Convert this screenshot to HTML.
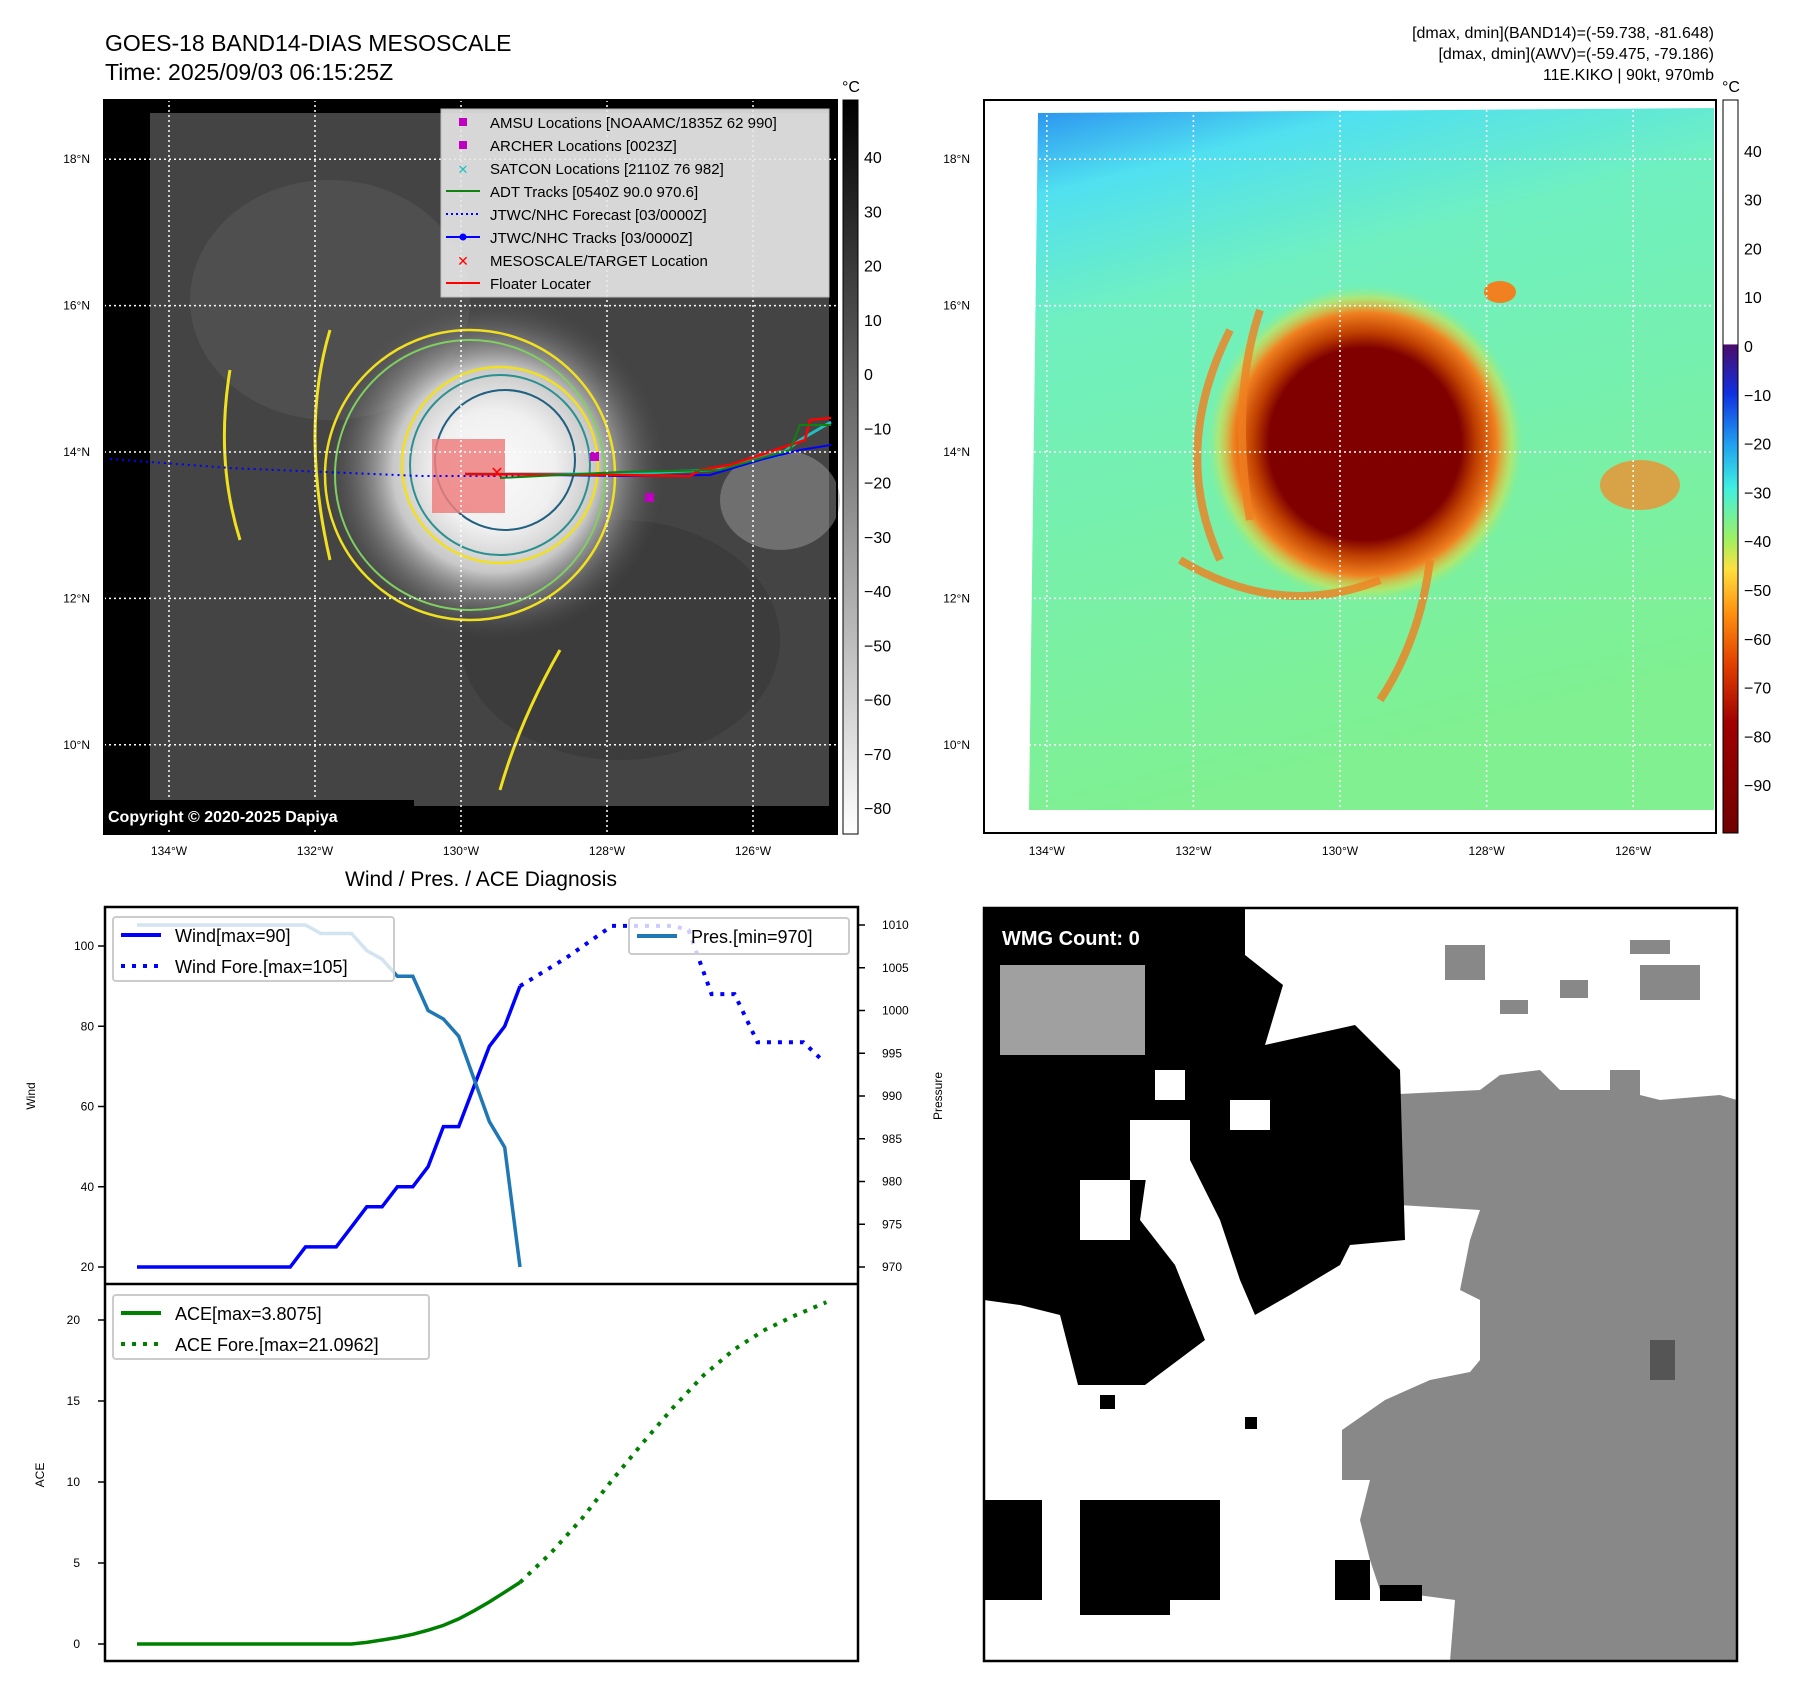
<!DOCTYPE html>
<html><head><meta charset="utf-8">
<style>
body{margin:0;background:#fff;}
svg{display:block;font-family:"Liberation Sans","DejaVu Sans",sans-serif;}
</style></head>
<body>
<svg id="root" width="1797" height="1690" viewBox="0 0 1797 1690" xmlns="http://www.w3.org/2000/svg">
<defs>
<linearGradient id="cb1" x1="0" y1="0" x2="0" y2="1">
<stop offset="0" stop-color="#000"/><stop offset="1" stop-color="#fff"/></linearGradient>
<linearGradient id="cb2" x1="0" y1="0" x2="0" y2="1">
<stop offset="0" stop-color="#fff"/><stop offset="0.333" stop-color="#fff"/>
<stop offset="0.334" stop-color="#4b0c6b"/><stop offset="0.40" stop-color="#1030e0"/>
<stop offset="0.47" stop-color="#20a0f0"/><stop offset="0.53" stop-color="#40f0e0"/>
<stop offset="0.60" stop-color="#a0f060"/><stop offset="0.64" stop-color="#ffe040"/>
<stop offset="0.70" stop-color="#ff9010"/><stop offset="0.77" stop-color="#e04000"/>
<stop offset="0.85" stop-color="#a00000"/><stop offset="1" stop-color="#700000"/></linearGradient>
<radialGradient id="storm1" cx="0.5" cy="0.5" r="0.5">
<stop offset="0" stop-color="#fafafa"/><stop offset="0.35" stop-color="#f0f0f0"/>
<stop offset="0.6" stop-color="#c8c8c8"/><stop offset="1" stop-color="#555" stop-opacity="0"/></radialGradient>
<linearGradient id="bg2" x1="0" y1="0" x2="0.25" y2="1">
<stop offset="0" stop-color="#2a90f0"/><stop offset="0.12" stop-color="#50e0f0"/>
<stop offset="0.3" stop-color="#70f0c0"/><stop offset="1" stop-color="#80f090"/></linearGradient>
<radialGradient id="storm2" cx="0.5" cy="0.5" r="0.5">
<stop offset="0" stop-color="#800000"/><stop offset="0.6" stop-color="#800000"/>
<stop offset="0.7" stop-color="#c04000"/><stop offset="0.82" stop-color="#f08020"/>
<stop offset="0.92" stop-color="#e0e040" stop-opacity="0.5"/><stop offset="1" stop-color="#80f090" stop-opacity="0"/></radialGradient>
</defs>

<text x="105" y="51" font-size="23">GOES-18 BAND14-DIAS MESOSCALE</text>
<text x="105" y="80" font-size="23">Time: 2025/09/03 06:15:25Z</text>
<g font-size="16" text-anchor="end">
<text x="1714" y="38">[dmax, dmin](BAND14)=(-59.738, -81.648)</text>
<text x="1714" y="59">[dmax, dmin](AWV)=(-59.475, -79.186)</text>
<text x="1714" y="80">11E.KIKO | 90kt, 970mb</text>
</g>

<!-- MAP 1 -->
<g>
<rect x="104" y="100" width="733" height="734" fill="#000"/>
<rect x="150" y="113" width="679" height="693" fill="#444"/>
<ellipse cx="330" cy="300" rx="140" ry="120" fill="#5a5a5a" opacity="0.5"/>
<ellipse cx="620" cy="640" rx="160" ry="120" fill="#333" opacity="0.5"/>
<ellipse cx="780" cy="500" rx="60" ry="50" fill="#999" opacity="0.5"/>
<circle cx="495" cy="470" r="170" fill="url(#storm1)"/>
<circle cx="470" cy="475" r="145" fill="none" stroke="#f0e020" stroke-width="2.5"/>
<circle cx="470" cy="475" r="135" fill="none" stroke="#80d060" stroke-width="2"/>
<circle cx="500" cy="465" r="98" fill="none" stroke="#f0e020" stroke-width="2.5"/>
<circle cx="500" cy="465" r="90" fill="none" stroke="#2a9090" stroke-width="2"/>
<circle cx="505" cy="460" r="70" fill="none" stroke="#206080" stroke-width="2"/>
<path d="M230 370 Q215 460 240 540 M330 330 Q300 430 330 560 M560 650 Q520 720 500 790" fill="none" stroke="#f0e020" stroke-width="3"/>
<rect x="432" y="439" width="73" height="74" fill="#f08080" opacity="0.85"/>
<path d="M110 459 L230 468 L420 476 L520 476" fill="none" stroke="#0000ff" stroke-width="2" stroke-dasharray="2 4"/>
<path d="M465 474 L620 474 L710 470 L780 455 L800 440 L831 422" fill="none" stroke="#20c0c0" stroke-width="3"/>
<path d="M465 474 L620 476 L710 475 L760 460 L800 450 L831 445" fill="none" stroke="#0000ff" stroke-width="2"/>
<path d="M465 474 L620 475 L690 476 L700 470 L730 465 L760 455 L805 440 L810 420 L831 418" fill="none" stroke="#ff0000" stroke-width="2.5"/>
<path d="M500 478 L620 472 L720 470 L790 450 L800 425 L831 425" fill="none" stroke="#108010" stroke-width="2"/>
<text x="497" y="478" font-size="16" fill="#f00" text-anchor="middle">✕</text>
<rect x="645" y="493" width="9" height="9" fill="#c000c0"/>
<rect x="590" y="452" width="9" height="9" fill="#c000c0"/>
<g id="grid1"></g>
<rect x="104" y="800" width="310" height="30" fill="#000"/>
<text x="108" y="822" font-size="16" font-weight="bold" fill="#fff">Copyright © 2020-2025 Dapiya</text>
<rect x="104" y="100" width="733" height="734" fill="none" stroke="#000" stroke-width="2"/>
</g>
<g font-size="15">
<rect x="441" y="109" width="388" height="188" fill="#e8e8e8" opacity="0.9" stroke="#ccc"/>
<rect x="459" y="118" width="8" height="8" fill="#c000c0"/><text x="490" y="128">AMSU Locations [NOAAMC/1835Z 62 990]</text>
<rect x="459" y="141" width="8" height="8" fill="#c000c0"/><text x="490" y="151">ARCHER Locations [0023Z]</text>
<text x="463" y="174" fill="#20c0c0" text-anchor="middle" font-size="13">✕</text><text x="490" y="174">SATCON Locations [2110Z 76 982]</text>
<line x1="446" y1="191" x2="480" y2="191" stroke="#108010" stroke-width="2"/><text x="490" y="197">ADT Tracks [0540Z 90.0 970.6]</text>
<line x1="446" y1="214" x2="480" y2="214" stroke="#0000ff" stroke-width="2" stroke-dasharray="2 3"/><text x="490" y="220">JTWC/NHC Forecast [03/0000Z]</text>
<line x1="446" y1="237" x2="480" y2="237" stroke="#0000ff" stroke-width="2"/><circle cx="463" cy="237" r="3.5" fill="#00f"/><text x="490" y="243">JTWC/NHC Tracks [03/0000Z]</text>
<text x="463" y="266" fill="#f00" text-anchor="middle" font-size="14">✕</text><text x="490" y="266">MESOSCALE/TARGET Location</text>
<line x1="446" y1="283" x2="480" y2="283" stroke="#ff0000" stroke-width="2"/><text x="490" y="289">Floater Locater</text>
</g>
<rect x="843" y="100" width="15" height="734" fill="url(#cb1)" stroke="#000"/>
<text x="851" y="92" font-size="16" text-anchor="middle">°C</text>
<g id="cbt1" font-size="16"></g>

<!-- MAP 2 -->
<g>
<rect x="984" y="100" width="732" height="733" fill="#fff"/>
<polygon points="1038,113 1714,108 1714,810 1029,810" fill="url(#bg2)"/>
<circle cx="1365" cy="444" r="160" fill="url(#storm2)"/>
<path d="M1230 330 Q1170 450 1220 560 M1260 310 Q1230 400 1250 520 M1180 560 Q1280 620 1380 580 M1430 560 Q1420 640 1380 700" fill="none" stroke="#f08020" stroke-width="8" opacity="0.8"/>
<ellipse cx="1640" cy="485" rx="40" ry="25" fill="#f09030" opacity="0.8"/>
<ellipse cx="1500" cy="292" rx="16" ry="11" fill="#f08020"/>
<circle cx="1365" cy="444" r="95" fill="#800000"/>
<g id="grid2"></g>
<rect x="984" y="100" width="732" height="733" fill="none" stroke="#000" stroke-width="2"/>
</g>
<rect x="1723" y="100" width="15" height="733" fill="url(#cb2)" stroke="#000"/>
<text x="1731" y="92" font-size="16" text-anchor="middle">°C</text>
<g id="cbt2" font-size="16"></g>

<!-- WIND/PRES/ACE -->
<text x="481" y="886" font-size="21" text-anchor="middle">Wind / Pres. / ACE Diagnosis</text>
<g id="chart"></g>

<!-- WMG -->
<g>
<rect x="984" y="908" width="753" height="753" fill="#fff"/>
<polygon points="1288,1198 1330,1198 1330,1120 1380,1095 1480,1090 1500,1075 1540,1070 1560,1090 1620,1090 1660,1100 1720,1095 1737,1100 1737,1661 1450,1661 1455,1600 1380,1590 1370,1560 1360,1520 1370,1480 1342,1480 1342,1430 1385,1400 1430,1380 1470,1372 1480,1360 1480,1300 1460,1290 1470,1240 1480,1210" fill="#888"/>
<rect x="1445" y="945" width="40" height="35" fill="#888"/><rect x="1500" y="1000" width="28" height="14" fill="#888"/><rect x="1560" y="980" width="28" height="18" fill="#888"/><rect x="1630" y="940" width="40" height="14" fill="#888"/><rect x="1640" y="965" width="60" height="35" fill="#888"/><rect x="1610" y="1070" width="30" height="40" fill="#888"/>
<polygon points="984,908 1245,908 1245,955 1283,985 1265,1045 1355,1025 1400,1070 1405,1240 1350,1245 1340,1265 1290,1295 1255,1315 1240,1280 1220,1220 1190,1160 1150,1150 1140,1220 1175,1265 1205,1340 1145,1385 1078,1385 1060,1315 1020,1305 984,1300" fill="#000"/>
<rect x="1000" y="965" width="145" height="90" fill="#a0a0a0"/>
<rect x="1155" y="1070" width="30" height="30" fill="#fff"/><rect x="1230" y="1100" width="40" height="30" fill="#fff"/><rect x="1130" y="1120" width="60" height="60" fill="#fff"/>
<rect x="1080" y="1180" width="50" height="60" fill="#fff"/>
<rect x="984" y="1500" width="58" height="100" fill="#000"/><rect x="1080" y="1500" width="140" height="100" fill="#000"/><rect x="1080" y="1580" width="90" height="35" fill="#000"/><rect x="1335" y="1560" width="35" height="40" fill="#000"/><rect x="1380" y="1585" width="42" height="16" fill="#000"/><rect x="1100" y="1395" width="15" height="14" fill="#000"/><rect x="1245" y="1417" width="12" height="12" fill="#000"/>
<rect x="1650" y="1340" width="25" height="40" fill="#555"/>
<text x="1002" y="945" font-size="20" font-weight="bold" fill="#fff">WMG Count: 0</text>
<rect x="984" y="908" width="753" height="753" fill="none" stroke="#000" stroke-width="2.5"/>
</g>

<script>
// ---------- chart data ----------
const windObs = [20,20,20,20,20,20,20,20,20,20,20,25,25,25,30,35,35,40,40,45,55,55,65,75,80,90];
const presObs = [1010,1010,1010,1010,1010,1010,1010,1010,1010,1010,1010,1010,1009,1009,1009,1007,1006,1004,1004,1000,999,997,992,987,984,970];
const windForeIdx = [25,28,31,35,36,37.5,39,40.5,42,43.5,44.6];
const windForeVal = [90,97,105,105,104,88,88,76,76,76,72];
const aceObs = [0,0,0,0,0,0,0,0,0,0,0,0,0,0,0,0.1,0.25,0.4,0.6,0.85,1.15,1.55,2.05,2.6,3.2,3.8];
const aceForeIdx = [25,27,29,31,33,35,37,39,41,43,45];
const aceForeVal = [3.8,5.6,7.7,10.1,12.4,14.6,16.6,18.2,19.4,20.3,21.1];
const windTicks = [20,40,60,80,100];
const presTicks = [970,975,980,985,990,995,1000,1005,1010];
const aceTicks = [0,5,10,15,20];
const latTicks = ["18°N","16°N","14°N","12°N","10°N"];
const latVals = [18,16,14,12,10];
const lonTicks = ["134°W","132°W","130°W","128°W","126°W"];
const lonVals = [134,132,130,128,126];
const cb1Ticks = [40,30,20,10,0,-10,-20,-30,-40,-50,-60,-70,-80];
const cb2Ticks = [40,30,20,10,0,-10,-20,-30,-40,-50,-60,-70,-80,-90];

const NS = "http://www.w3.org/2000/svg";
function mk(tag, attrs, parent, txt){const e=document.createElementNS(NS,tag);for(const k in attrs)e.setAttribute(k,attrs[k]);if(txt!==undefined)e.textContent=txt;parent.appendChild(e);return e;}

const X = i => 137 + i*15.32;
const yW = w => 1267 - (w-20)*4.0125;
const yP = p => 1267 - (p-970)*8.55;
const yA = a => 1644 - a*16.2;
const latY = l => 452 - (l-14)*73.2;
function lonX1(l){return 461 + (130-l)*73;}
function lonX2(l){return 1340 + (130-l)*73.3;}
const cb1Y = v => 374 - v*5.425;
const cb2Y = v => 346 - v*4.88;

[["grid1",lonX1,104,837],["grid2",lonX2,984,1716]].forEach(([id,fx,x0,x1])=>{
  const g=document.getElementById(id);
  latVals.forEach((v,i)=>{
    const l=mk("line",{x1:x0,x2:x1,y1:latY(v),y2:latY(v),stroke:"#fff","stroke-width":1.5,"stroke-dasharray":"2 3"},g);
    
    
    const t=mk("text",{x:x0-14,y:latY(v)+4,"font-size":12,"text-anchor":"end",fill:"#000"},g,latTicks[i]);
    
    
  });
  lonVals.forEach((v,i)=>{
    const x=fx(v);
    const l=mk("line",{x1:x,x2:x,y1:100,y2:833,stroke:"#fff","stroke-width":1.5,"stroke-dasharray":"2 3"},g);
    
    
    const t=mk("text",{x:x,y:855,"font-size":12,"text-anchor":"middle",fill:"#000"},g,lonTicks[i]);
    
    
  });
});
const g1=document.getElementById("cbt1");
cb1Ticks.forEach(v=>{
  const t=mk("text",{x:864,y:cb1Y(v)+6},g1,v<0?"\u2212"+(-v):String(v));
  
  
});
const g2=document.getElementById("cbt2");
cb2Ticks.forEach(v=>{
  const t=mk("text",{x:1744,y:cb2Y(v)+6},g2,v<0?"\u2212"+(-v):String(v));
  
  
});

const c=document.getElementById("chart");
mk("rect",{x:105,y:907,width:753,height:754,fill:"#fff",stroke:"#000","stroke-width":2.5},c);
mk("line",{x1:105,x2:858,y1:1284,y2:1284,stroke:"#000","stroke-width":2.5},c);
windTicks.forEach(v=>{
  mk("line",{x1:98,x2:105,y1:yW(v),y2:yW(v),stroke:"#000","stroke-width":1.5},c);
  const t=mk("text",{x:94,y:yW(v)+4,"font-size":12,"text-anchor":"end"},c,String(v));
  
  
});
presTicks.forEach(v=>{
  mk("line",{x1:858,x2:865,y1:yP(v),y2:yP(v),stroke:"#000","stroke-width":1.5},c);
  const t=mk("text",{x:882,y:yP(v)+4,"font-size":12},c,String(v));
  
  
});
aceTicks.forEach(v=>{
  mk("line",{x1:98,x2:105,y1:yA(v),y2:yA(v),stroke:"#000","stroke-width":1.5},c);
  const t=mk("text",{x:80,y:yA(v)+4,"font-size":12,"text-anchor":"end"},c,String(v));
  
  
});
mk("text",{x:35,y:1096,"font-size":12,"text-anchor":"middle",transform:"rotate(-90 35 1096)"},c,"Wind");
mk("text",{x:942,y:1096,"font-size":12,"text-anchor":"middle",transform:"rotate(-90 942 1096)"},c,"Pressure");
mk("text",{x:44,y:1475,"font-size":12,"text-anchor":"middle",transform:"rotate(-90 44 1475)"},c,"ACE");

function pts(xs,ys,fy){return xs.map((x,i)=>X(x).toFixed(1)+","+fy(ys[i]).toFixed(1)).join(" ");}
const idx = windObs.map((_,i)=>i);
const pl1=mk("polyline",{points:pts(idx,windObs,yW),fill:"none",stroke:"#0000ff","stroke-width":3.5},c);


const pl2=mk("polyline",{points:pts(windForeIdx,windForeVal,yW),fill:"none",stroke:"#0000ff","stroke-width":4,"stroke-dasharray":"4 7"},c);


const pl3=mk("polyline",{points:pts(idx,presObs,yP),fill:"none",stroke:"#1f77b4","stroke-width":3.5},c);


const pl4=mk("polyline",{points:pts(idx,aceObs,yA),fill:"none",stroke:"#008000","stroke-width":3.5},c);


const pl5=mk("polyline",{points:pts(aceForeIdx,aceForeVal,yA),fill:"none",stroke:"#008000","stroke-width":4,"stroke-dasharray":"4 7"},c);



function legend(x,y,w,h,items,name){
  const g=mk("g",{},c);
  
  
  mk("rect",{x:x,y:y,width:w,height:h,rx:3,fill:"#fff","fill-opacity":0.8,stroke:"#ccc","stroke-width":2},g);
  items.forEach((it,i)=>{
    const yy=y+18+i*31;
    mk("line",{x1:x+8,x2:x+48,y1:yy,y2:yy,stroke:it[1],"stroke-width":4,"stroke-dasharray":it[2]?"4 7":"none"},g);
    mk("text",{x:x+62,y:yy+7,"font-size":18},g,it[0]);
  });
}
legend(113,917,281,64,[["Wind[max=90]","#0000ff",false],["Wind Fore.[max=105]","#0000ff",true]],"wind-legend");
legend(629,918,220,36,[["Pres.[min=970]","#1f77b4",false]],"pressure-legend");
legend(113,1295,316,64,[["ACE[max=3.8075]","#008000",false],["ACE Fore.[max=21.0962]","#008000",true]],"ace-legend");
</script>
</svg>
</body></html>
